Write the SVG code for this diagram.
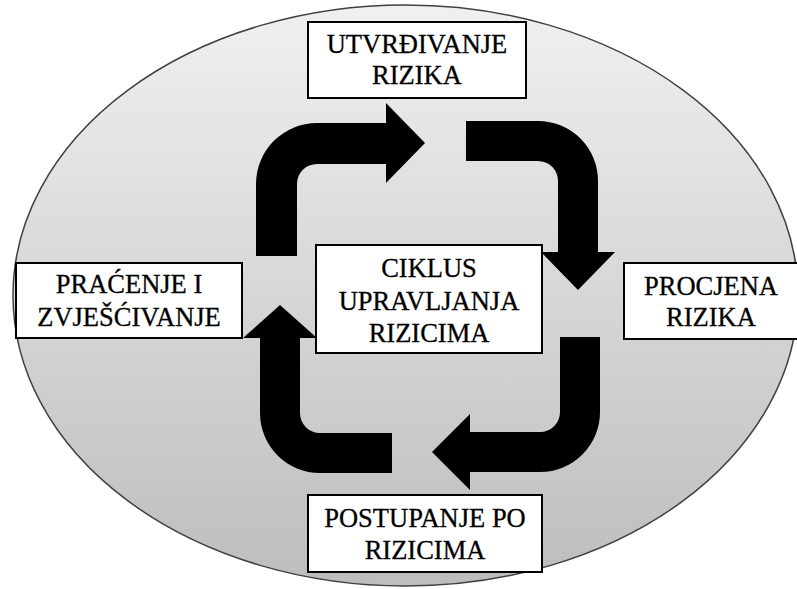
<svg xmlns="http://www.w3.org/2000/svg" width="797" height="589" viewBox="0 0 797 589">
  <defs>
    <linearGradient id="bg" x1="0" y1="0" x2="0" y2="1">
      <stop offset="0" stop-color="#f0f0f0"/>
      <stop offset="1" stop-color="#bdbdbd"/>
    </linearGradient>
  </defs>
  <style>
    .box { fill: #ffffff; stroke: #000000; stroke-width: 2; }
    .lbl { font-family: "Liberation Serif", "Times New Roman", serif; font-size: 26.5px; fill: #000000; stroke: #000000; stroke-width: 0.3; text-anchor: middle; }
    .arrow { fill: #000000; stroke: none; }
  </style>
  <rect width="797" height="589" fill="#ffffff"/>
  <ellipse id="ciklus-bg" cx="405.5" cy="295.5" rx="392.5" ry="290.5" fill="url(#bg)" stroke="#404040" stroke-width="1.5"/>

  <g id="connectors">
    <path class="arrow" d="M256,256 L256,184 A61,61 0 0 1 317,123 L386,123 L386,103 L425,143 L386,183 L386,164 L317,164 A20,20 0 0 0 297,184 L297,256 Z"/>
    <path class="arrow" d="M466,121 L538,121 A60,60 0 0 1 598,181 L598,252 L615,252 L578,290 L541,252 L558,252 L558,181 A20,20 0 0 0 538,161 L466,161 Z"/>
    <path class="arrow" d="M600,337 L600,412 A60,60 0 0 1 540,472 L470,472 L470,490 L432,452 L470,414 L470,432 L540,432 A20,20 0 0 0 560,412 L560,337 Z"/>
    <path class="arrow" d="M392,433 L320,433 A20,20 0 0 1 300,413 L300,338 L317,338 L280,305 L243,338 L260,338 L260,413 A60,60 0 0 0 320,473 L392,473 Z"/>
  </g>

  <g id="utvrdivanje">
    <rect class="box" x="308" y="22" width="218" height="76"/>
    <text class="lbl" x="417" y="53">UTVRĐIVANJE</text>
    <text class="lbl" x="417" y="84">RIZIKA</text>
  </g>

  <g id="procjena">
    <rect class="box" x="624" y="263" width="175" height="76"/>
    <text class="lbl" x="711" y="295">PROCJENA</text>
    <text class="lbl" x="711" y="326">RIZIKA</text>
  </g>

  <g id="postupanje">
    <rect class="box" x="308" y="495" width="234" height="77"/>
    <text class="lbl" x="425" y="527">POSTUPANJE PO</text>
    <text class="lbl" x="425" y="559">RIZICIMA</text>
  </g>

  <g id="pracenje">
    <rect class="box" x="16" y="263" width="226" height="75"/>
    <text class="lbl" x="129" y="293">PRAĆENJE I</text>
    <text class="lbl" x="129" y="326">ZVJEŠĆIVANJE</text>
  </g>

  <g id="ciklus">
    <rect class="box" x="316" y="245" width="226" height="108"/>
    <text class="lbl" x="429" y="277">CIKLUS</text>
    <text class="lbl" x="429" y="310">UPRAVLJANJA</text>
    <text class="lbl" x="429" y="342">RIZICIMA</text>
  </g>
</svg>
